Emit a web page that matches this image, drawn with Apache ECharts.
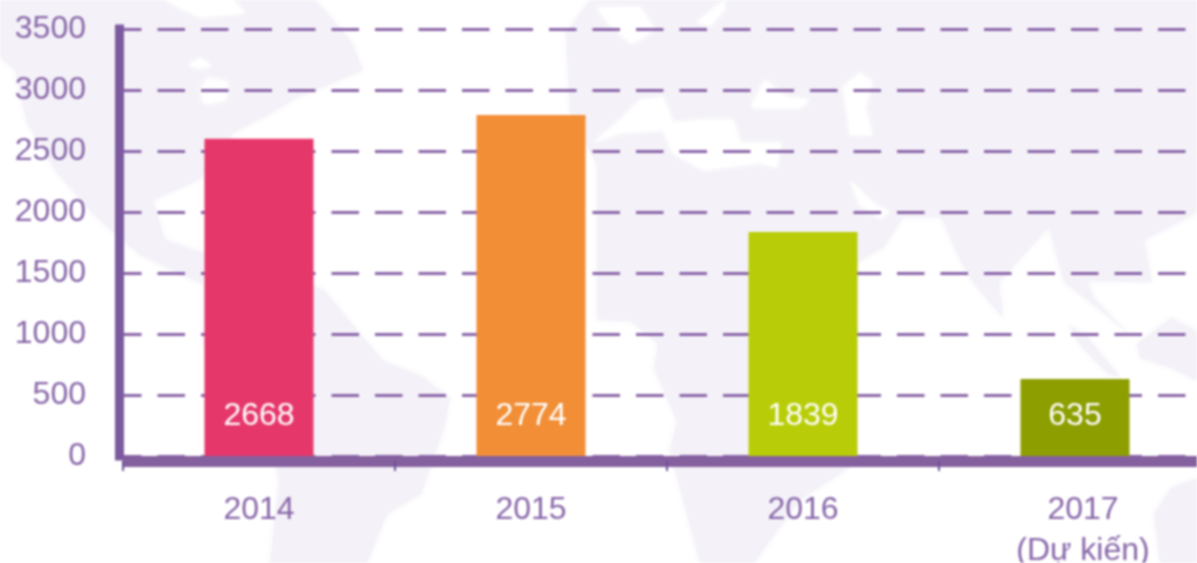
<!DOCTYPE html>
<html>
<head>
<meta charset="utf-8">
<style>
html,body{margin:0;padding:0;background:#fff;overflow:hidden}
#c{width:1197px;height:563px;filter:blur(1px)}
</style>
<script src="https://cdn.jsdelivr.net/npm/echarts@6/dist/echarts.min.js"></script>
</head>
<body>
<div id="c"></div>
<script>
const categories = ['2014', '2015', '2016', '2017\n(Dự kiến)'];
const barHeights = [2600, 2795, 1836, 632];
const printedValues = ['2668', '2774', '1839', '635'];
const barColors = ['#e6376b', '#f18e36', '#b8cd08', '#8d9e00'];
const yTicks = [0, 500, 1000, 1500, 2000, 2500, 3000, 3500];

const LAND = '#f4f2f8', SEA = '#ffffff', PURPLE = '#85609f', TEXT = '#8766a8';

const landShapes = [
  [[0,57],[15,70],[27,123],[57,173],[96,217],[140,255],[204,285],[313,285],[325,291],[352,324],[383,361],[421,376],[450,398],[444,428],[429,471],[421,494],[387,514],[367,563],[270,563],[279,481],[270,440],[204,345],[204,253],[165,240],[153,200],[199,180],[233,133],[268,115],[298,97],[333,83],[363,70],[352,43],[325,10],[314,0],[0,0]],
  [[590,0],[1197,0],[1197,213],[1144,240],[1152,282],[1087,281],[1094,298],[1133,338],[1100,310],[1064,282],[1049,227],[999,282],[1003,318],[972,281],[960,260],[941,217],[903,217],[884,247],[857,263],[857,300],[850,467],[800,500],[777,531],[754,563],[700,563],[670,451],[677,421],[654,368],[658,344],[631,321],[597,320],[597,165],[570,113],[566,33]],
  [[1137,344],[1171,318],[1197,331],[1197,381],[1171,368],[1140,358]],
  [[1068,324],[1087,337],[1121,378],[1108,374],[1080,345]],
  [[1171,488],[1197,478],[1197,563],[1160,563],[1154,514]]
];
const seaShapes = [
  [[165,0],[199,17],[245,13],[233,0]],
  [[188,65],[200,58],[212,66],[198,68]],
  [[200,90],[208,78],[228,82],[226,100],[204,104]],
  [[597,8],[640,7],[655,30],[632,44],[610,25]],
  [[697,22],[725,0],[724,10],[710,26]],
  [[593,143],[620,120],[640,100],[663,97],[673,123],[703,120],[733,120],[740,143],[781,143],[777,167],[760,163],[703,170],[673,153],[663,130],[620,133]],
  [[751,107],[765,80],[785,97],[810,100],[800,108],[760,108]],
  [[843,87],[860,73],[872,82],[865,108],[872,135],[850,135],[848,118]],
  [[850,180],[875,205],[890,212],[880,218],[860,205]]
];
const poly = (pts, fill) => ({
  type: 'polygon', silent: true, z: -10,
  shape: { points: pts }, style: { fill: fill, shadowBlur: 6, shadowColor: fill }
});

const chart = echarts.init(document.getElementById('c'), null, { renderer: 'canvas' });
chart.setOption({
  animation: false,
  backgroundColor: '#ffffff',
  textStyle: { fontFamily: '"Liberation Sans", Arial, sans-serif' },
  graphic: { elements: landShapes.map(p => poly(p, LAND)).concat(seaShapes.map(p => poly(p, SEA))) },
  grid: { left: 123, top: 29, width: 1088, height: 427, containLabel: false, outerBoundsMode: 'none' },
  xAxis: {
    type: 'category',
    data: categories.map((c, i) => i === 3 ? { value: c, textStyle: { padding: [0, 0, 0, 16] } } : c),
    offset: 5,
    axisLine: { show: true, onZero: false, lineStyle: { color: PURPLE, width: 11, cap: 'butt' } },
    axisTick: { show: true, alignWithLabel: false, length: 10, lineStyle: { color: '#6f4f98', width: 2 } },
    axisLabel: {
      color: TEXT, fontSize: 32, margin: 29, lineHeight: 41, interval: 0,
      fontFamily: '"Liberation Sans", Arial, sans-serif'
    }
  },
  yAxis: {
    type: 'value',
    min: 0, max: 3500, interval: 500,
    offset: 4,
    axisLine: { show: true, onZero: false, lineStyle: { color: '#7c5a9f', width: 9, cap: 'square' } },
    axisTick: { show: false },
    axisLabel: {
      color: TEXT, fontSize: 32, margin: 33,
      fontFamily: '"Liberation Sans", Arial, sans-serif',
      formatter: v => yTicks.includes(v) ? String(v) : ''
    },
    splitLine: {
      show: true,
      lineStyle: { color: '#8a64a8', width: 3, type: [27.5, 16], dashOffset: 9 }
    }
  },
  series: [{
    type: 'bar',
    barWidth: 109,
    data: barHeights.map((v, i) => ({ value: v, itemStyle: { color: barColors[i] } })),
    label: {
      show: true,
      position: 'insideBottom',
      distance: 24,
      color: '#ffffff',
      fontSize: 32,
      fontFamily: '"Liberation Sans", Arial, sans-serif',
      formatter: p => printedValues[p.dataIndex]
    }
  }]
});
</script>
</body>
</html>
